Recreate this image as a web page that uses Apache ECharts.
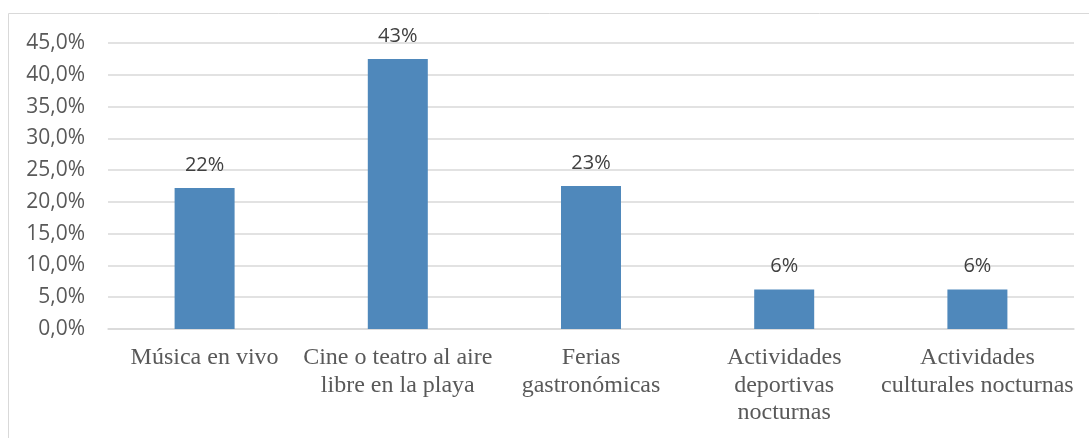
<!DOCTYPE html>
<html>
<head>
<meta charset="utf-8">
<script src="https://cdn.jsdelivr.net/npm/echarts@6/dist/echarts.min.js"></script>
<style>
  html, body { margin: 0; padding: 0; background: #fff; }
  #chart { width: 1089px; height: 438px; }
</style>
</head>
<body>
<div id="chart"></div>
<script>
// categorias (eje X)
var categories = [
    'Música en vivo',
    'Cine o teatro al aire\nlibre en la playa',
    'Ferias\ngastronómicas',
    'Actividades\ndeportivas\nnocturnas',
    'Actividades\nculturales nocturnas'
];
// porcentajes
var values = [22.2, 42.5, 22.5, 6.2, 6.2];
// etiquetas sobre cada barra
var barLabels = ['22%', '43%', '23%', '6%', '6%'];

var chart = echarts.init(document.getElementById('chart'));
var option = {
    animation: false,
    graphic: [{
        type: 'rect',
        shape: { x: 8.5, y: 13.5, width: 1100, height: 440 },
        style: { fill: 'none', stroke: '#d9d9d9', lineWidth: 1 }
    }],
    grid: {
        left: 108,
        right: 15,
        top: 43,
        bottom: 109
    },
    xAxis: {
        type: 'category',
        data: categories,
        axisTick: { show: false },
        axisLine: { lineStyle: { color: '#d9d9d9', width: 1.5 } },
        axisLabel: {
            interval: 0,
            margin: 15,
            color: '#595959',
            fontFamily: '"Liberation Serif", serif',
            fontSize: 24,
            lineHeight: 27.5
        }
    },
    yAxis: {
        type: 'value',
        min: 0,
        max: 45,
        interval: 5,
        axisLine: { show: false },
        axisTick: { show: false },
        splitLine: { lineStyle: { color: '#d9d9d9', width: 1.5 } },
        axisLabel: {
            margin: 23,
            color: '#595959',
            fontFamily: '"Open Sans", sans-serif',
            fontSize: 21,
            formatter: function (v) {
                return v.toFixed(1).replace('.', ',') + '%';
            }
        }
    },
    series: [{
        type: 'bar',
        barWidth: 60,
        data: values,
        itemStyle: { color: '#4f88bb' },
        label: {
            show: true,
            position: 'top',
            distance: 13,
            color: '#404040',
            fontFamily: '"Open Sans", sans-serif',
            fontSize: 20,
            formatter: function (p) {
                return barLabels[p.dataIndex];
            }
        }
    }]
};
chart.setOption(option);
</script>
</body>
</html>
